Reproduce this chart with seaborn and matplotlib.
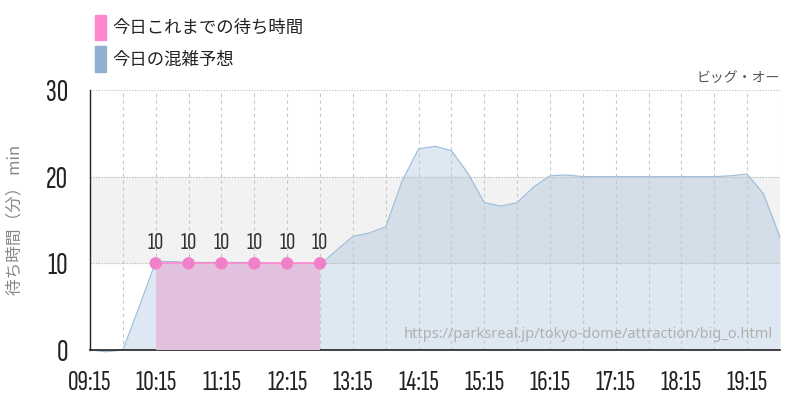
import matplotlib
matplotlib.use("Agg")
import matplotlib.pyplot as plt
from matplotlib.patches import Rectangle
import numpy as np
import pandas as pd
import seaborn as sns

# Data
forecast_times = ["09:15", "09:30", "09:45", "10:00", "10:15", "10:30", "10:45", "11:00",
                  "11:15", "11:30", "11:45", "12:00", "12:15", "12:30", "12:45", "13:00",
                  "13:15", "13:30", "13:45", "14:00", "14:15", "14:30", "14:45", "15:00",
                  "15:15", "15:30", "15:45", "16:00", "16:15", "16:30", "16:45", "17:00",
                  "17:15", "17:30", "17:45", "18:00", "18:15", "18:30", "18:45", "19:00",
                  "19:15", "19:30", "19:45"]
forecast_wait = [0, -0.2, 0, 5, 10.2, 10.2, 10.1, 10.1,
                 10.1, 10.1, 10.1, 10.0, 10.0, 9.8, 9.8, 11.5,
                 13.1, 13.5, 14.2, 19.5, 23.2, 23.5, 23.0, 20.4,
                 17.0, 16.6, 17.0, 18.8, 20.1, 20.2, 20.0, 20.0,
                 20.0, 20.0, 20.0, 20.0, 20.0, 20.0, 20.0, 20.1,
                 20.3, 18.0, 13.0]
actual_times = ["10:15", "10:45", "11:15", "11:45", "12:15", "12:45"]
actual_wait = [10, 10, 10, 10, 10, 10]
tick_labels = ["09:15", "10:15", "11:15", "12:15", "13:15", "14:15",
               "15:15", "16:15", "17:15", "18:15", "19:15"]


def to_hours(t):
    h, m = t.split(":")
    return int(h) + int(m) / 60


fc = pd.DataFrame({"t": [to_hours(t) for t in forecast_times], "wait": forecast_wait})
ac = pd.DataFrame({"t": [to_hours(t) for t in actual_times], "wait": actual_wait})

sns.set_style("white")
plt.rcParams["font.family"] = ["Noto Sans CJK JP", "DejaVu Sans"]
num_font = dict(family="Sofia Sans Extra Condensed", weight="light")

fig = plt.figure(figsize=(8, 4), dpi=100)
ax = fig.add_axes([0.1125, 0.125, 0.8625, 0.65])

x0, x1 = to_hours("09:15"), to_hours("19:45")
ax.set_xlim(x0, x1)
ax.set_ylim(0, 30)

# gray band between 10 and 20
ax.axhspan(10, 20, color="#f2f2f2", zorder=0)

# forecast area
ax.fill_between(fc["t"], fc["wait"], 0, color="#749fcb", alpha=0.23, lw=0, zorder=1)
sns.lineplot(data=fc, x="t", y="wait", ax=ax, color="#9fbedb", lw=0.9, zorder=2,
             clip_on=False)

# actual area
ax.fill_between(ac["t"], ac["wait"], 0, color="#e2c1df", lw=0, zorder=3)
sns.lineplot(data=ac, x="t", y="wait", ax=ax, color="#ff88cc", lw=1.2, zorder=4)
sns.scatterplot(data=ac, x="t", y="wait", ax=ax, color="#f080c8", s=80,
                edgecolor="none", zorder=5)
for t, w in zip(ac["t"], ac["wait"]):
    ax.annotate(str(w), (t, w), xytext=(0, 7), textcoords="offset points",
                ha="center", va="bottom", fontsize=18, color="#333333",
                zorder=6, **num_font)

# grid
for v in np.arange(to_hours("09:45"), x1 + 0.01, 0.5):
    ax.axvline(v, color="#c8c8c8", lw=0.8, ls=(0, (3, 3)), zorder=2.5)
for h in [10, 20, 30]:
    ax.axhline(h, color="#b8b8b8", lw=0.8, ls=(0, (1, 1.5)), zorder=2.5)

ax.set_xticks([to_hours(t) for t in tick_labels])
ax.set_xticklabels(tick_labels, fontsize=21, color="#222222", **num_font)
ax.set_yticks([0, 10, 20, 30])
ax.set_yticklabels(["0", "10", "20", "30"], fontsize=23, color="#222222", **num_font)
ax.tick_params(axis="x", length=14, color="#bbbbbb", width=0.8, pad=1)
ax.tick_params(axis="y", length=14, color="#bbbbbb", width=0.8, pad=2)
ax.set_xlabel("")
ax.set_ylabel("待ち時間（分） min", fontsize=12, color="#888888", labelpad=16)

for s in ["top", "right"]:
    ax.spines[s].set_visible(False)
ax.spines["left"].set_color("#222222")
ax.spines["bottom"].set_color("#222222")
ax.spines["left"].set_linewidth(1.0)
ax.spines["bottom"].set_linewidth(1.2)

ax.text(0.99, 0.03, "https://parksreal.jp/tokyo-dome/attraction/big_o.html",
        transform=ax.transAxes, ha="right", va="bottom", fontsize=10.5,
        color="#b0b0b0", family=["Noto Sans", "DejaVu Sans"], zorder=7)
ax.text(1.0, 1.02, "ビッグ・オー", transform=ax.transAxes, ha="right",
        va="bottom", fontsize=10, color="#555555")

# legend
fig.add_artist(Rectangle((95 / 800, 1 - 40 / 400), 11 / 800, 25 / 400,
                         transform=fig.transFigure, color="#ff88cc"))
fig.add_artist(Rectangle((95 / 800, 1 - 72 / 400), 11 / 800, 26 / 400,
                         transform=fig.transFigure, color="#8fb0d0"))
fig.text(112 / 800, 1 - 28 / 400, "今日これまでの待ち時間", fontsize=12.5,
         va="center", ha="left", color="#222222")
fig.text(112 / 800, 1 - 60 / 400, "今日の混雑予想", fontsize=12.5,
         va="center", ha="left", color="#222222")

fig.savefig("out.png", dpi=100)
